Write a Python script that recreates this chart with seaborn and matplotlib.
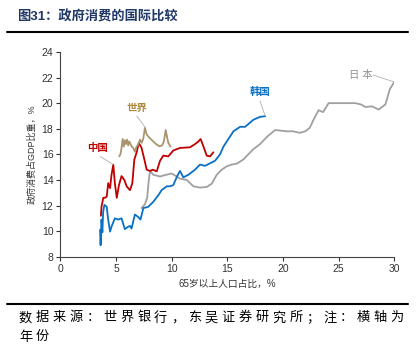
import matplotlib
matplotlib.use('Agg')
import matplotlib.pyplot as plt
import seaborn as sns
import pandas as pd

# ==================== data ====================
japan_x = [7.3, 7.6, 7.8, 7.95, 8.06, 8.36, 8.96, 9.5, 10.0, 10.4, 10.75, 11.36, 11.95, 12.55,
           13.15, 13.6, 14.05, 14.5, 14.95, 15.4, 15.85, 16.45, 17.0, 17.34, 17.94, 18.6, 19.3,
           20.3, 20.9, 21.5, 22.0, 22.4, 22.8, 23.2, 23.6, 24.1, 25.1, 26.5, 27.0, 27.4, 28.0,
           28.6, 29.2, 29.6, 30.0]
japan_y = [11.8, 12.1, 12.6, 14.0, 14.7, 14.4, 14.27, 14.4, 14.5, 14.3, 14.1, 14.0, 13.5, 13.4,
           13.45, 13.7, 14.4, 14.8, 15.06, 15.2, 15.27, 15.6, 16.1, 16.4, 16.8, 17.4, 17.9,
           17.8, 17.8, 17.68, 17.8, 18.07, 18.8, 19.45, 19.3, 20.0, 20.0, 20.0, 19.9, 19.7, 19.75,
           19.5, 19.9, 21.1, 21.65]

korea_x = [3.57, 3.62, 3.7, 3.78, 3.85, 3.96, 4.17, 4.3, 4.47, 4.6, 4.9, 5.2, 5.5, 5.8, 6.1,
           6.26, 6.4, 6.7, 7.0, 7.2, 7.46, 7.9, 8.36, 8.8, 9.1, 9.56, 9.85, 10.15, 10.5, 10.75,
           11.05, 11.5, 12.1, 12.55, 13.0, 13.45, 13.9, 14.35, 14.65, 15.1, 15.55, 16.15, 16.6,
           17.34, 17.94, 18.4]
korea_y = [10.1, 8.9, 10.9, 9.9, 11.5, 12.05, 11.9, 10.9, 9.96, 10.35, 11.0, 10.9, 11.0, 10.15,
           10.35, 10.4, 10.2, 11.3, 11.1, 10.9, 11.8, 11.9, 12.3, 12.8, 13.2, 13.5, 13.5, 13.6,
           14.3, 14.7, 14.2, 14.4, 14.8, 15.2, 15.1, 15.3, 15.5, 16.0, 16.6, 17.2, 17.8, 18.15,
           18.15, 18.7, 18.93, 18.98]

china_x = [3.65, 3.7, 3.86, 4.0, 4.17, 4.3, 4.47, 4.6, 4.76, 4.9, 5.07, 5.27, 5.5, 5.75, 5.96,
           6.26, 6.47, 6.65, 6.86, 7.05, 7.3, 7.55, 7.76, 8.06, 8.3, 8.66, 8.96, 9.25, 9.7,
           10.15, 10.75, 11.65, 12.1, 12.4, 12.6, 12.85, 13.15, 13.45, 13.75]
china_y = [11.2, 11.9, 12.6, 12.6, 12.7, 13.75, 13.36, 14.4, 15.2, 13.75, 12.6, 13.6, 14.3, 14.0,
           13.5, 13.2, 13.75, 15.6, 16.16, 16.9, 16.5, 15.6, 14.8, 14.7, 14.8, 14.67, 15.5, 15.9,
           15.84, 16.3, 16.5, 16.55, 16.8, 17.0, 17.2, 16.63, 15.9, 15.84, 16.16]

world_x = [5.3, 5.4, 5.5, 5.6, 5.7, 5.8, 5.9, 6.0, 6.1, 6.2, 6.4, 6.55, 6.7, 6.85, 7.0, 7.16,
           7.3, 7.45, 7.6, 7.76, 8.0, 8.36, 8.6, 8.9, 9.15, 9.3, 9.47, 9.6, 9.7, 9.9]
world_y = [15.84, 16.0, 16.5, 17.2, 16.6, 17.1, 16.8, 17.15, 16.7, 17.0, 16.63, 16.5, 16.2, 16.6,
           16.76, 17.15, 16.9, 17.2, 18.07, 17.55, 17.3, 17.0, 16.8, 16.63, 16.7, 17.0, 17.9,
           17.3, 16.9, 16.6]

footnote_lines = ['数据来源：世界银行，东吴证券研究所；注：横轴为', '年份']

# ==================== style ====================
sns.set_style('ticks')
plt.rcParams['font.family'] = ['Liberation Sans', 'Noto Sans CJK SC']
plt.rcParams['axes.unicode_minus'] = False

fig = plt.figure(figsize=(4.17, 3.53), dpi=100)
ax = fig.add_axes([0.1446, 0.2728, 0.801, 0.58])

series = [
    (japan_x, japan_y, '#A0A0A0'),
    (korea_x, korea_y, '#0A70C4'),
    (china_x, china_y, '#C00000'),
    (world_x, world_y, '#A8956F'),
]
for xs, ys, col in series:
    df = pd.DataFrame({'x': xs, 'y': ys})
    sns.lineplot(data=df, x='x', y='y', sort=False, estimator=None,
                 color=col, linewidth=1.3, ax=ax)

ax.set_xlim(0, 30)
ax.set_ylim(8, 24)
ax.set_xticks(range(0, 31, 5))
ax.set_yticks(range(8, 25, 2))
ax.tick_params(labelsize=7.5, length=3, width=0.8, colors='#333333', pad=2)
for s in ['top', 'right']:
    ax.spines[s].set_visible(False)
for s in ['left', 'bottom']:
    ax.spines[s].set_color('#444444')
    ax.spines[s].set_linewidth(0.8)

ax.set_xlabel('65岁以上人口占比，%', fontsize=7, color='#333333', labelpad=4)
ax.set_ylabel('政府消费占GDP比重，%', fontsize=6.5, color='#333333', labelpad=4)

# series labels with leader lines
labels = [
    ('世界', 6.85, 19.66, 6.86, 19.0, 7.6, 18.15, '#B08A3E', 'bold'),
    ('中国', 3.34, 16.5, 3.57, 15.84, 4.76, 15.2, '#C00000', 'bold'),
    ('韩国', 17.9, 20.84, 17.94, 20.16, 18.4, 19.0, '#0A70C4', 'bold'),
    ('日 本', 27.0, 22.2, 28.1, 22.2, 30.0, 21.65, '#909090', 'normal'),
]
for txt, tx, ty, lx0, ly0, lx1, ly1, col, wt in labels:
    ax.text(tx, ty, txt, fontsize=7.5, color=col, ha='center', va='center',
            fontweight=wt)
    ax.plot([lx0, lx1], [ly0, ly1], color='#B0B0B0', linewidth=0.6)

# title and rules
fig.text(0.041, 0.952, '图31：政府消费的国际比较', fontsize=9.5, fontweight='bold',
         color='#1F3864', va='center')
fig.add_artist(plt.Line2D([0.017, 0.978], [0.909, 0.909], color='black', linewidth=1.5))
fig.add_artist(plt.Line2D([0.017, 0.978], [0.139, 0.139], color='black', linewidth=1.5))

# source note, spaced per character like the reference
step = 16.9 / 417
for row, line in enumerate(footnote_lines):
    yy = 0.099 - row * 0.055
    for i, ch in enumerate(line):
        fig.text(0.041 + i * step + step / 2 - 0.0, yy, ch, fontsize=9.5,
                 color='black', va='center', ha='center')

plt.savefig('out.png', dpi=100)
plt.close()
